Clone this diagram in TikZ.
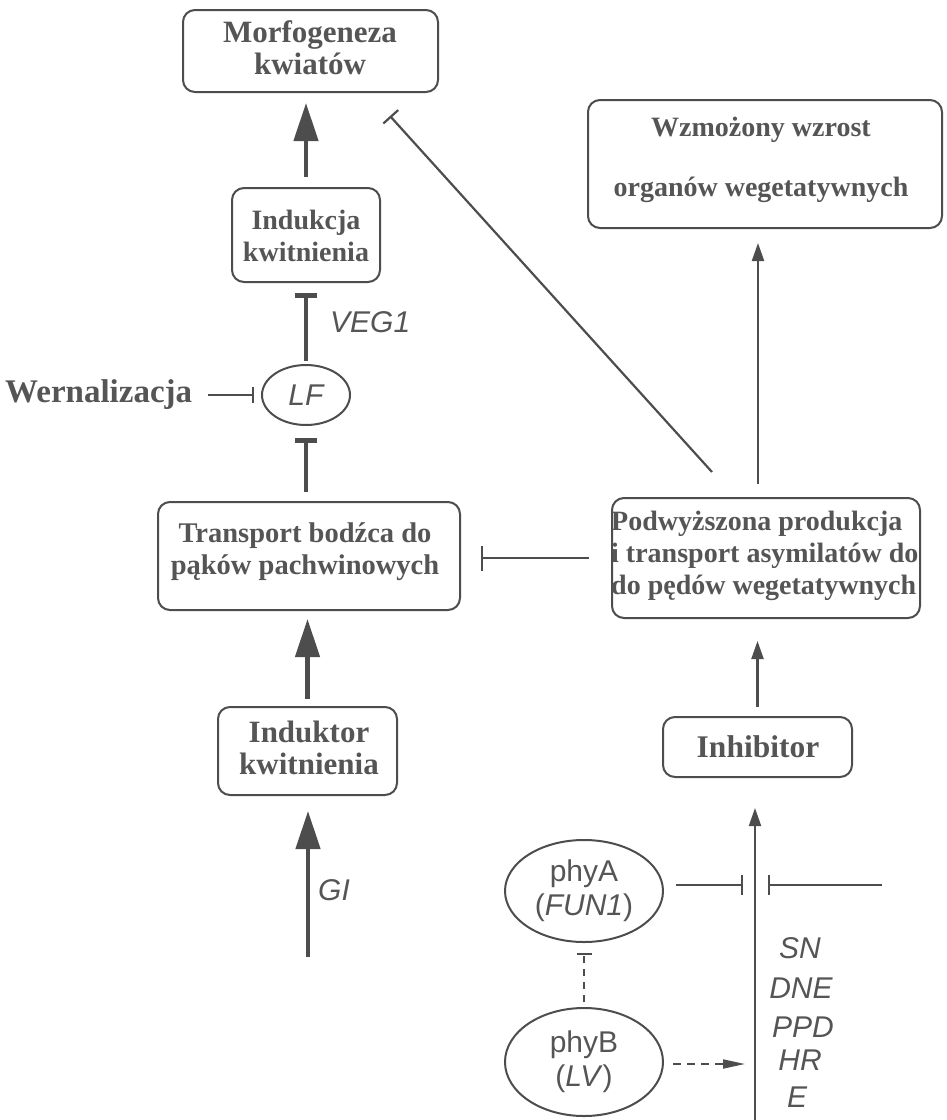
\documentclass[tikz,border=0pt]{standalone}
\usepackage{fontspec}
\setmainfont{Liberation Serif}
\setsansfont{Liberation Sans}
\usetikzlibrary{arrows.meta,shapes.geometric}
\definecolor{ink}{HTML}{555555}
\definecolor{rule}{HTML}{4d4d4d}

\begin{document}
\begin{tikzpicture}[x=1pt,y=-1pt,
  box/.style={draw=rule, line width=2pt, rounded corners=12pt, inner sep=0},
  blob/.style={draw=rule, line width=2pt, ellipse, inner sep=0},
  ser/.style={text=ink, font=\fontsize{28}{32}\selectfont\bfseries, align=center, inner sep=0},
  serat/.style={text=ink, font=\fontsize{#1}{32}\selectfont\bfseries, align=center, inner sep=0},
  gen/.style={text=ink, font=\fontsize{30}{34}\selectfont\sffamily\itshape, inner sep=0},
  gup/.style={text=ink, font=\fontsize{30}{34}\selectfont\sffamily, align=center, inner sep=0},
  bigarrow/.style={draw=rule, line width=4.5pt, -{Triangle[width=24pt,length=38pt]}},
  bigblock/.style={draw=rule, line width=4.5pt, -{Bar[width=22pt]}},
  smallarrow/.style={draw=rule, line width=2.2pt, -{Triangle[width=12pt,length=18pt]}},
  smallblock/.style={draw=rule, line width=2.2pt, -{Bar[width=#1]}},
  smallblock/.default=22pt,
]
\useasboundingbox (0,0) rectangle (947,1120);

% boxes
\node[box, minimum width=255pt, minimum height=82pt]  (morf)  at (310.5,51) {};
\node[box, minimum width=354pt, minimum height=128pt] (wzm)   at (765,164) {};
\node[box, minimum width=148pt, minimum height=94pt]  (indk)  at (306,235) {};
\node[box, minimum width=302pt, minimum height=108pt] (trans) at (309,556) {};
\node[box, minimum width=308pt, minimum height=120pt] (podw)  at (766,558) {};
\node[box, minimum width=179pt, minimum height=88pt]  (indr)  at (307.5,751) {};
\node[box, minimum width=189pt, minimum height=60pt]  (inhib) at (757.5,747) {};

% ellipses
\node[blob, minimum width=88pt, minimum height=60pt, gen] (LF) at (306,395) {LF};
\node[blob, minimum width=158pt, minimum height=102pt, gup] (phyA) at (584,891) {phyA\\(\textit{FUN1})};
\node[blob, minimum width=158pt, minimum height=108pt, gup] (phyB) at (584,1062) {phyB\\(\textit{LV})};

% box texts
\node[serat=31] (tmorf) at (310,48) {Morfogeneza\\kwiatów};
\node[ser, font=\fontsize{28}{60}\selectfont\bfseries] (twzm) at (761,160) {Wzmożony wzrost\\organów wegetatywnych};
\node[ser] (tindk) at (306,236) {Indukcja\\kwitnienia};
\node[serat=28.5] (ttrans) at (305,552) {Transport bodźca do\\pąków pachwinowych};
\node[ser, anchor=west, align=left] (tpodw) at (611,556) {Podwyższona produkcja\\i transport asymilatów do\\do pędów wegetatywnych};
\node[serat=31] (tindr) at (309,748) {Induktor\\kwitnienia};
\node[serat=31.5] (tinhib) at (758,747) {Inhibitor};
\node[serat=33, anchor=west] (wern) at (5,395) {Wernalizacja};

% gene labels
\node[gen, anchor=west] (veg) at (330,322) {VEG1};
\node[gen, anchor=west] (gi) at (318,890) {GI};
\node[gen] (sn)  at (800,948)  {SN};
\node[gen] (dne) at (801,988)  {DNE};
\node[gen] (ppd) at (803,1027) {PPD};
\node[gen] (hr)  at (800,1060) {HR};
\node[gen] (e)   at (797,1097) {E};

% free ends
\coordinate (dgfoot) at (712,472);
\coordinate (dgtop) at (390,116);
\coordinate (stem) at (755,1120);
\coordinate (gifoot) at (308,957);
\coordinate (rt) at (882,885);

% left column
\draw[bigarrow, shorten <=10pt, shorten >=10pt] (indk.north) -- (indk.north |- morf.south);
\draw[bigblock, shorten <=3pt, shorten >=10pt] (LF.north) -- (LF.north |- indk.south);
\draw[bigblock, shorten <=9pt, shorten >=12pt] (trans.north -| LF.south) -- (LF.south);
\draw[bigarrow, shorten <=7pt, shorten >=8pt] (indr.north) -- (indr.north |- trans.south);
\draw[bigarrow, shorten >=15pt] (gifoot) -- (gifoot |- indr.south);
\draw[smallblock=16pt, line width=1.8pt, shorten <=16pt, shorten >=7pt] (wern.east) -- (LF.west);

% right column
\draw[smallblock=20pt] (dgfoot) -- (dgtop);
\draw[smallarrow, shorten <=13pt, shorten >=14pt] ([xshift=-8pt]podw.north) -- ([xshift=-8pt]podw.north |- wzm.south);
\draw[smallblock=25pt, shorten <=22pt, shorten >=20pt] (podw.west) -- (podw.west -| trans.east);
\draw[smallarrow, shorten <=9pt, shorten >=22pt] (inhib.north) -- (inhib.north |- podw.south);
\draw[smallarrow, line width=2pt, shorten >=30pt] (stem) -- (stem |- inhib.south);
\draw[smallblock=20pt, shorten <=12pt, shorten >=12pt] ([yshift=6pt]phyA.east) -- ([yshift=6pt]phyA.east -| stem);
\draw[smallblock=20pt, shorten >=13pt] (rt) -- (rt -| stem);
\draw[draw=rule, line width=1.5pt, dash pattern=on 7pt off 6pt, -{Bar[width=15pt]}, shorten <=5pt, shorten >=10pt] (phyB.north) -- (phyA.south);
\draw[draw=rule, line width=1.8pt, dash pattern=on 8pt off 6pt, -{Triangle[width=9pt,length=22pt]}, shorten <=9pt, shorten >=10pt] ([yshift=-2pt]phyB.east) -- ([yshift=-2pt]phyB.east -| stem);
\end{tikzpicture}
\end{document}
